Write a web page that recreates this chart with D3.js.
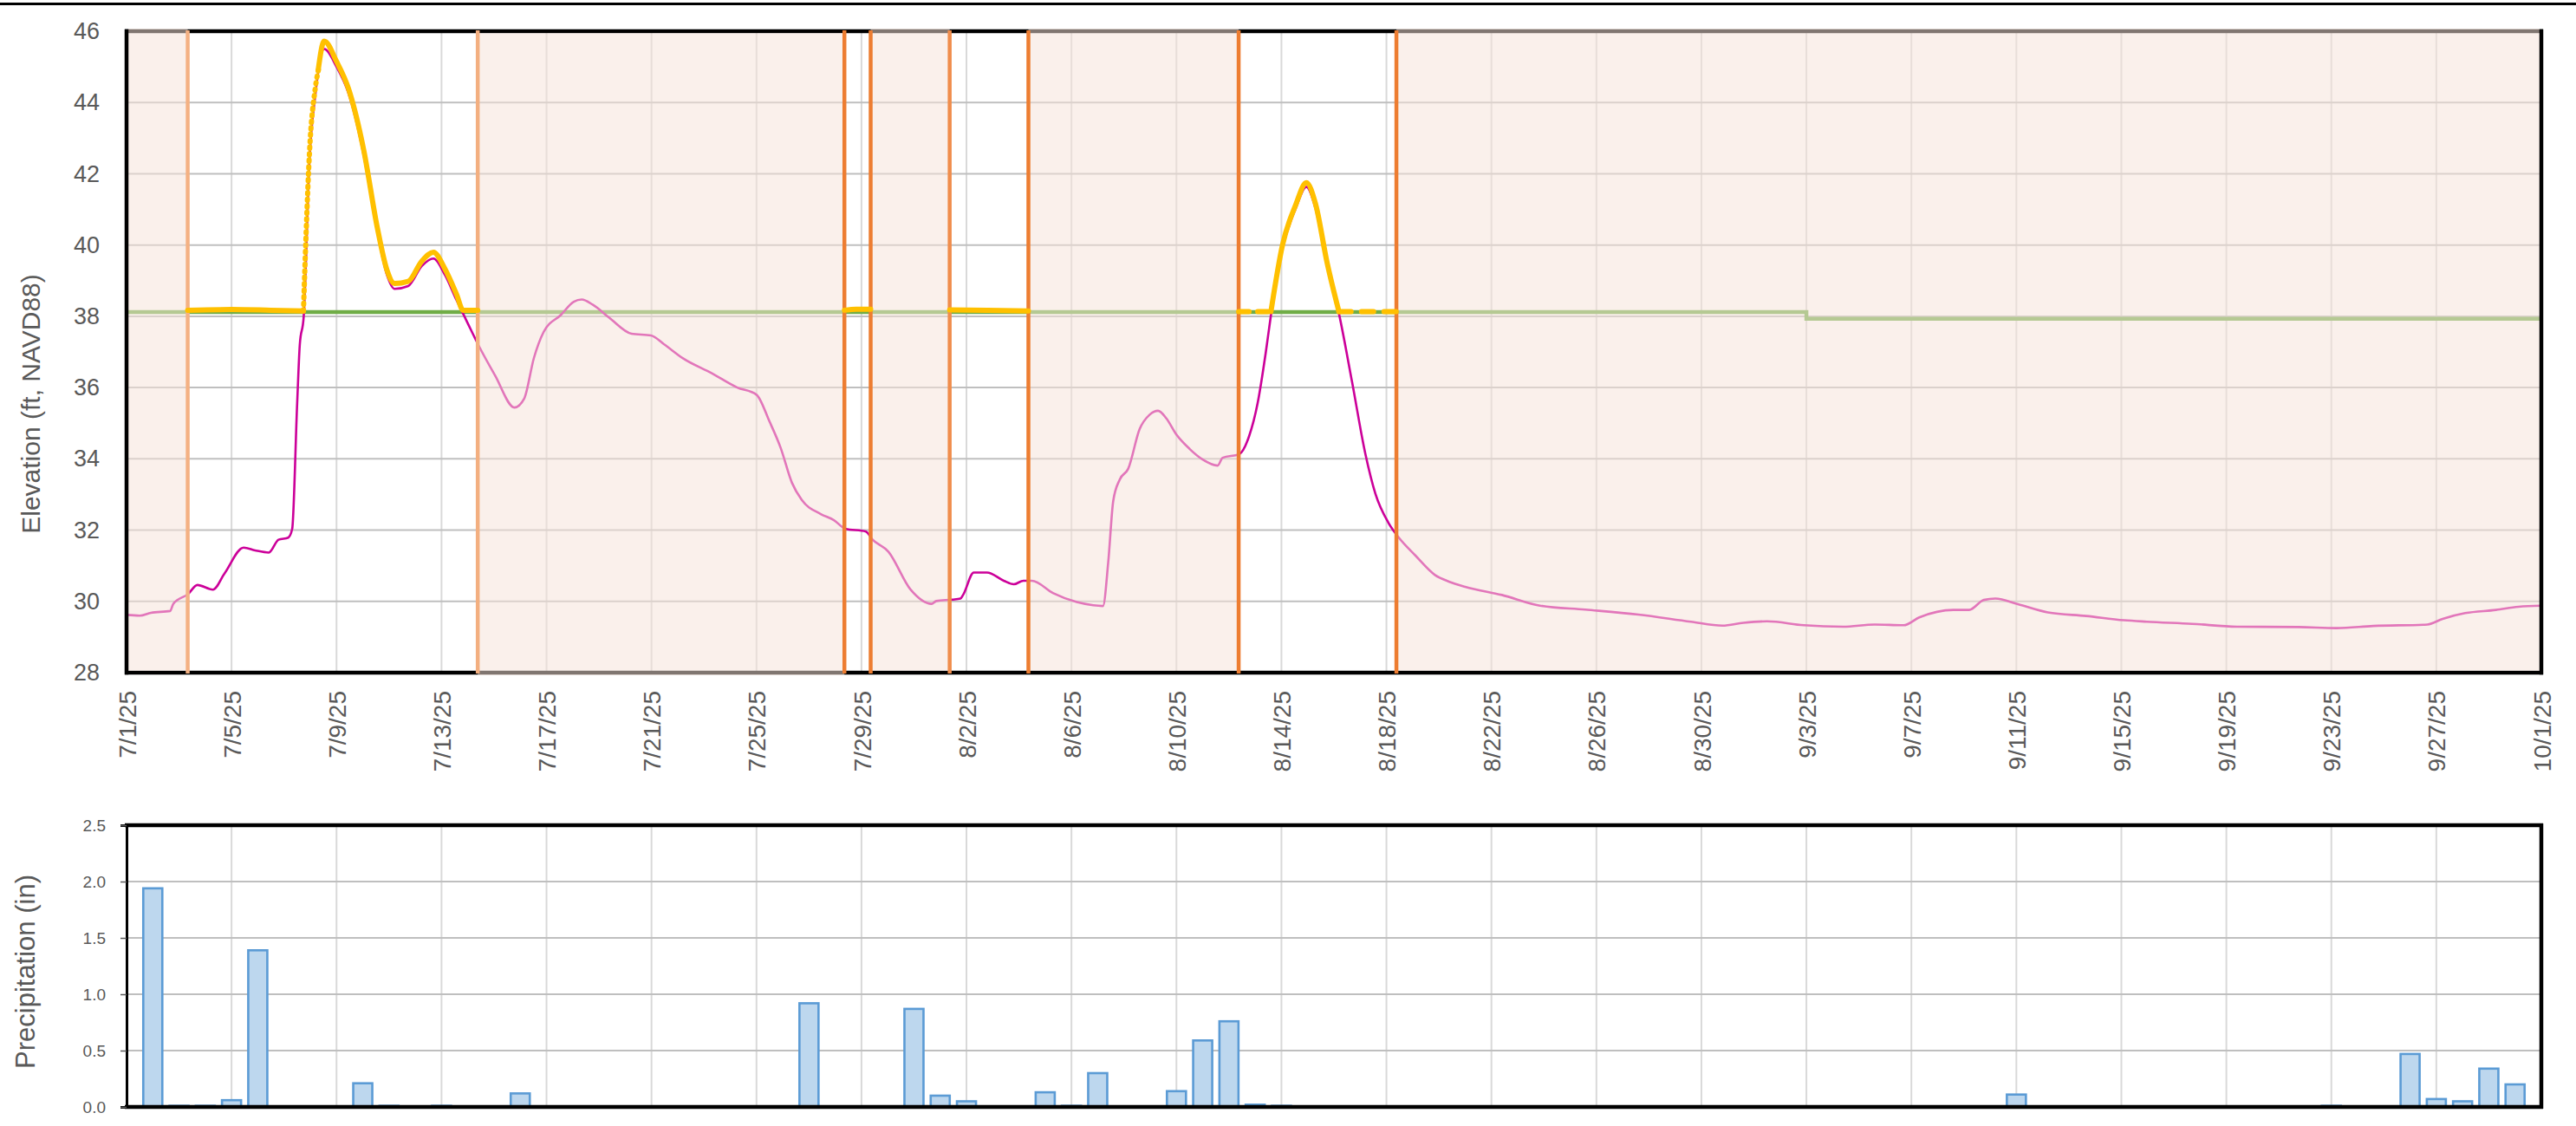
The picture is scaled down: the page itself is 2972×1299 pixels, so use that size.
<!DOCTYPE html>
<html><head><meta charset="utf-8">
<script src="https://cdn.jsdelivr.net/npm/d3@7"></script>
<style>body{margin:0;background:#fff}svg{display:block}text{font-family:"Liberation Sans",Arial,sans-serif}</style>
</head><body><svg id="c" width="2972" height="1299"></svg>
<script>
// ---------- DATA ----------
const tickLabels = ["7/1/25","7/5/25","7/9/25","7/13/25","7/17/25","7/21/25","7/25/25","7/29/25","8/2/25","8/6/25","8/10/25","8/14/25","8/18/25","8/22/25","8/26/25","8/30/25","9/3/25","9/7/25","9/11/25","9/15/25","9/19/25","9/23/25","9/27/25","10/1/25"];
const tickDays = [0,4,8,12,16,20,24,28,32,36,40,44,48,52,56,60,64,68,72,76,80,84,88,92];
const elevTicks = [28,30,32,34,36,38,40,42,44,46];
const precipTicks = [0,0.5,1.0,1.5,2.0,2.5];

// elevation (days since 7/1/25 00:00, ft NAVD88)
const elevDays = [0,0.5,0.93,1.66,1.78,2.35,2.7,3.29,3.73,4.46,4.9,5.42,5.79,6.16,6.31,6.5,6.6,6.75,6.97,7.19,7.53,8.0,8.45,9.04,9.55,9.92,10.21,10.73,11.25,11.69,12.13,12.58,12.95,13.4,14.04,14.78,15.15,15.52,15.89,16.55,17.04,17.34,17.77,18.39,19.24,19.98,20.47,21.2,22.3,23.27,24.0,24.5,24.92,25.35,25.72,26.45,26.95,27.38,28.17,28.4,29.03,29.87,30.67,30.85,31.46,31.77,31.87,32.28,32.78,33.42,33.8,34.17,34.49,35.31,36.2,36.83,37.2,37.4,37.59,37.84,38.16,38.6,38.98,39.3,39.61,39.99,40.5,41.0,41.57,41.76,42.39,42.77,43.09,43.4,43.59,44.04,44.54,44.95,45.3,45.74,46.19,46.69,47.2,47.58,48.08,48.46,49.1,49.85,50.4,51.0,52.4,53.85,55.58,57.6,59.6,60.8,61.6,62.5,63.9,65.4,66.6,67.7,68.3,69.6,70.2,70.76,71.2,72.06,73.2,74.66,76.1,76.97,78.7,80.4,82.75,84.2,85.6,87.66,88.24,89.1,90.27,91.13,92];
const elevVals = [29.62,29.6,29.68,29.73,29.93,30.21,30.46,30.33,30.78,31.51,31.43,31.37,31.73,31.79,32.03,35.55,37.2,38.0,42.4,44.2,45.5,45.0,44.27,42.5,40.38,39.16,38.77,38.85,39.41,39.62,39.16,38.44,37.88,37.2,36.34,35.44,35.69,36.83,37.56,38.04,38.41,38.47,38.32,37.96,37.51,37.46,37.22,36.82,36.4,36.0,35.8,35.04,34.31,33.33,32.85,32.45,32.28,32.04,31.96,31.75,31.39,30.33,29.93,30.01,30.05,30.08,30.18,30.81,30.81,30.58,30.48,30.58,30.58,30.23,29.98,29.89,29.87,31.09,32.81,33.42,33.72,34.84,35.24,35.35,35.14,34.69,34.28,33.98,33.81,34.03,34.13,34.64,35.55,36.97,37.98,39.9,41.02,41.63,41.02,39.4,38.08,36.16,34.13,33.02,32.2,31.8,31.29,30.74,30.55,30.41,30.18,29.88,29.77,29.63,29.43,29.32,29.4,29.44,29.33,29.29,29.35,29.33,29.55,29.76,29.76,30.04,30.08,29.92,29.69,29.59,29.47,29.43,29.37,29.29,29.28,29.25,29.31,29.35,29.51,29.67,29.76,29.85,29.88];

// threshold (green) line
const threshDays = [0,64,92];
const threshVals = [38.12,37.93,37.93];

// computed (yellow) series, in pieces
const yellowDays = [
  [2.33,4.0,5.5,6.74],
  [6.74,6.85,6.97,7.19,7.32],
  [7.3,7.53,8.0,8.45,9.04,9.55,9.92,10.21,10.73,11.25,11.69,12.13,12.58,12.82,13.38],
  [27.35,27.8,28.35],
  [31.36,32.8,34.36],
  [42.37,43.6],
  [43.6,44.04,44.54,44.95,45.3,45.74,46.19],
  [46.19,48.38]
];
const yellowVals = [
  [38.17,38.19,38.17,38.15],
  [38.15,40.5,42.6,44.4,44.95],
  [44.9,45.72,45.15,44.4,42.65,40.5,39.3,38.92,38.98,39.55,39.8,39.33,38.6,38.17,38.17],
  [38.17,38.2,38.2],
  [38.18,38.17,38.15],
  [38.13,38.13],
  [38.13,40.0,41.12,41.75,41.15,39.5,38.13],
  [38.13,38.13]
];

// event markers and shaded periods (days since 7/1/25)
const markerDays = [2.33,13.38,27.35,28.35,31.36,34.36,42.37,48.38];
const shadeStart = [0,13.38,28.35,34.36,48.38];
const shadeEnd   = [2.33,27.35,31.36,42.37,92];

// daily precipitation
const precipDays = [1,2,3,4,5,9,10,12,15,26,30,31,32,35,36,37,40,41,42,43,44,72,84,87,88,89,90,91];
const precipVals = [1.94,0.01,0.01,0.06,1.39,0.21,0.01,0.01,0.12,0.92,0.87,0.10,0.05,0.13,0.01,0.30,0.14,0.59,0.76,0.02,0.01,0.11,0.01,0.47,0.07,0.05,0.34,0.20];

// ---------- STYLE / LAYOUT ----------
const L = 146, R = 2932;
const T1 = 36, B1 = 776, T2 = 952, B2 = 1277;
const markerColors = ["#F4B183","#F3AF80","#ED7D31","#ED7D31","#F08D4C","#ED7D31","#ED7D31","#ED7D31"];
const shadeCoverTop = [true,false,true,true,true];
const shadeCoverBottom = [false,true,false,false,false];
const yellowDash = [null,"1.5,6",null,null,null,"12,10",null,"14,12"];

const svg = d3.select("#c");
svg.append("rect").attr("width",2972).attr("height",1299).attr("fill","#fff");
svg.append("line").attr("x1",0).attr("x2",2972).attr("y1",4.5).attr("y2",4.5).attr("stroke","#000").attr("stroke-width",3);

const x = d3.scaleLinear().domain([0,92]).range([L,R]);
const yE = d3.scaleLinear().domain([28,46]).range([B1,T1]);
const yP = d3.scaleLinear().domain([0,2.5]).range([B2,T2]);

// ---------- TOP CHART ----------
const g1 = svg.append("g");
svg.append("defs").append("clipPath").attr("id","clipTop").append("rect")
  .attr("x",L).attr("y",T1).attr("width",R-L).attr("height",B1-T1);

// gridlines
g1.selectAll(".vg").data(tickDays.filter(d=>d>0&&d<92)).join("line")
  .attr("x1",d=>x(d)).attr("x2",d=>x(d)).attr("y1",T1).attr("y2",B1)
  .attr("stroke","#D9D9D9").attr("stroke-width",2);
g1.selectAll(".hg").data(elevTicks.filter(d=>d>28&&d<46)).join("line")
  .attr("x1",L).attr("x2",R).attr("y1",d=>yE(d)).attr("y2",d=>yE(d))
  .attr("stroke","#BFBFBF").attr("stroke-width",2);

// green threshold
const threshPts = threshDays.map((d,i)=>[d,threshVals[i]]);
g1.append("path").datum(threshPts)
  .attr("d",d3.line().x(d=>x(d[0])).y(d=>yE(d[1])).curve(d3.curveStepAfter))
  .attr("fill","none").attr("stroke","#70AD47").attr("stroke-width",4.5);

// pink elevation
const elevPts = elevDays.map((d,i)=>[d,elevVals[i]]);
g1.append("path").datum(elevPts).attr("clip-path","url(#clipTop)")
  .attr("d",d3.line().x(d=>x(d[0])).y(d=>yE(d[1])).curve(d3.curveMonotoneX))
  .attr("fill","none").attr("stroke","#CC0099").attr("stroke-width",2.6).attr("stroke-linejoin","round");

// top & bottom borders
g1.append("line").attr("x1",L-2).attr("x2",R+2).attr("y1",T1).attr("y2",T1).attr("stroke","#000").attr("stroke-width",4.5);
g1.append("line").attr("x1",L-2).attr("x2",R+2).attr("y1",B1).attr("y2",B1).attr("stroke","#000").attr("stroke-width",4.5);

// shading overlay
g1.selectAll(".shade").data(shadeStart.map((s,i)=>i)).join("rect")
  .attr("x",i=>Math.max(x(shadeStart[i]),L+2))
  .attr("width",i=>Math.min(x(shadeEnd[i]),R-2)-Math.max(x(shadeStart[i]),L+2))
  .attr("y",i=>shadeCoverTop[i]?T1-3:T1+2.3)
  .attr("height",i=>(shadeCoverBottom[i]?B1+3:B1-2.3)-(shadeCoverTop[i]?T1-3:T1+2.3))
  .attr("fill","rgb(245,226,216)").attr("fill-opacity",0.52);

// left & right borders
g1.append("line").attr("x1",L).attr("x2",L).attr("y1",T1-2.2).attr("y2",B1+2.2).attr("stroke","#000").attr("stroke-width",4.5);
g1.append("line").attr("x1",R).attr("x2",R).attr("y1",T1-2.2).attr("y2",B1+2.2).attr("stroke","#000").attr("stroke-width",4.5);

// orange markers
g1.selectAll(".mk").data(markerDays).join("line")
  .attr("x1",d=>x(d)).attr("x2",d=>x(d)).attr("y1",T1-1).attr("y2",B1+1)
  .attr("stroke",(d,i)=>markerColors[i]).attr("stroke-width",4.5);

// yellow computed series
const yLine = d3.line().x(d=>x(d[0])).y(d=>yE(d[1])).curve(d3.curveMonotoneX);
yellowDays.forEach((days,k)=>{
  const pts = days.map((d,i)=>[d,yellowVals[k][i]]);
  const p = g1.append("path").datum(pts).attr("d",yLine)
    .attr("fill","none").attr("stroke","#FFC000").attr("stroke-width",6)
    .attr("stroke-linejoin","round").attr("stroke-linecap","round");
  if (yellowDash[k]) p.attr("stroke-dasharray",yellowDash[k]);
});

// axes (top)
const axE = svg.append("g").attr("transform",`translate(${L},0)`)
  .call(d3.axisLeft(yE).tickValues(elevTicks).tickSize(0).tickPadding(31));
axE.select(".domain").remove();
axE.selectAll("text").attr("font-size",27).attr("fill","#595959").attr("font-family","Liberation Sans");

const axX = svg.append("g").attr("transform",`translate(0,${B1})`)
  .call(d3.axisBottom(x).tickValues(tickDays).tickFormat((d,i)=>tickLabels[i]).tickSize(0));
axX.select(".domain").remove();
axX.selectAll("text").attr("transform","rotate(-90)").attr("x",-21).attr("y",0).attr("dy","0.36em")
  .attr("text-anchor","end").attr("font-size",28).attr("fill","#595959").attr("font-family","Liberation Sans");

svg.append("text").attr("transform","translate(46,466) rotate(-90)").attr("text-anchor","middle")
  .attr("font-size",30).attr("fill","#595959").text("Elevation (ft, NAVD88)");

// ---------- BOTTOM CHART ----------
const g2 = svg.append("g");
g2.selectAll(".vg2").data(tickDays.filter(d=>d>0&&d<92)).join("line")
  .attr("x1",d=>x(d)).attr("x2",d=>x(d)).attr("y1",T2).attr("y2",B2)
  .attr("stroke","#D9D9D9").attr("stroke-width",2);
g2.selectAll(".hg2").data(precipTicks.filter(d=>d>0&&d<2.5)).join("line")
  .attr("x1",L).attr("x2",R).attr("y1",d=>yP(d)).attr("y2",d=>yP(d))
  .attr("stroke","#BFBFBF").attr("stroke-width",2);

const bw = 22;
g2.selectAll(".bar").data(precipDays.map((d,i)=>[d,precipVals[i]])).join("rect")
  .attr("x",d=>x(d[0])-bw/2).attr("width",bw)
  .attr("y",d=>yP(d[1])).attr("height",d=>yP(0)-yP(d[1]))
  .attr("fill","#BDD7EE").attr("stroke","#5B9BD5").attr("stroke-width",2.6);

g2.append("line").attr("x1",L-2).attr("x2",R+2).attr("y1",T2).attr("y2",T2).attr("stroke","#000").attr("stroke-width",4.5);
g2.append("line").attr("x1",L-2).attr("x2",R+2).attr("y1",B2).attr("y2",B2).attr("stroke","#000").attr("stroke-width",4.5);
g2.append("line").attr("x1",R).attr("x2",R).attr("y1",T2-2).attr("y2",B2+2).attr("stroke","#000").attr("stroke-width",4.5);

const axP = svg.append("g").attr("transform",`translate(${L},0)`)
  .call(d3.axisLeft(yP).tickValues(precipTicks).tickFormat(d3.format(".1f")).tickSize(7).tickPadding(17));
axP.select(".domain").attr("stroke","#000").attr("stroke-width",3);
axP.selectAll(".tick line").attr("stroke","#595959").attr("stroke-width",1.5);
axP.selectAll("text").attr("font-size",19).attr("fill","#595959").attr("font-family","Liberation Sans");

svg.append("text").attr("transform","translate(40,1121) rotate(-90)").attr("text-anchor","middle")
  .attr("font-size",31).attr("fill","#595959").text("Precipitation (in)");
</script>
</body></html>
